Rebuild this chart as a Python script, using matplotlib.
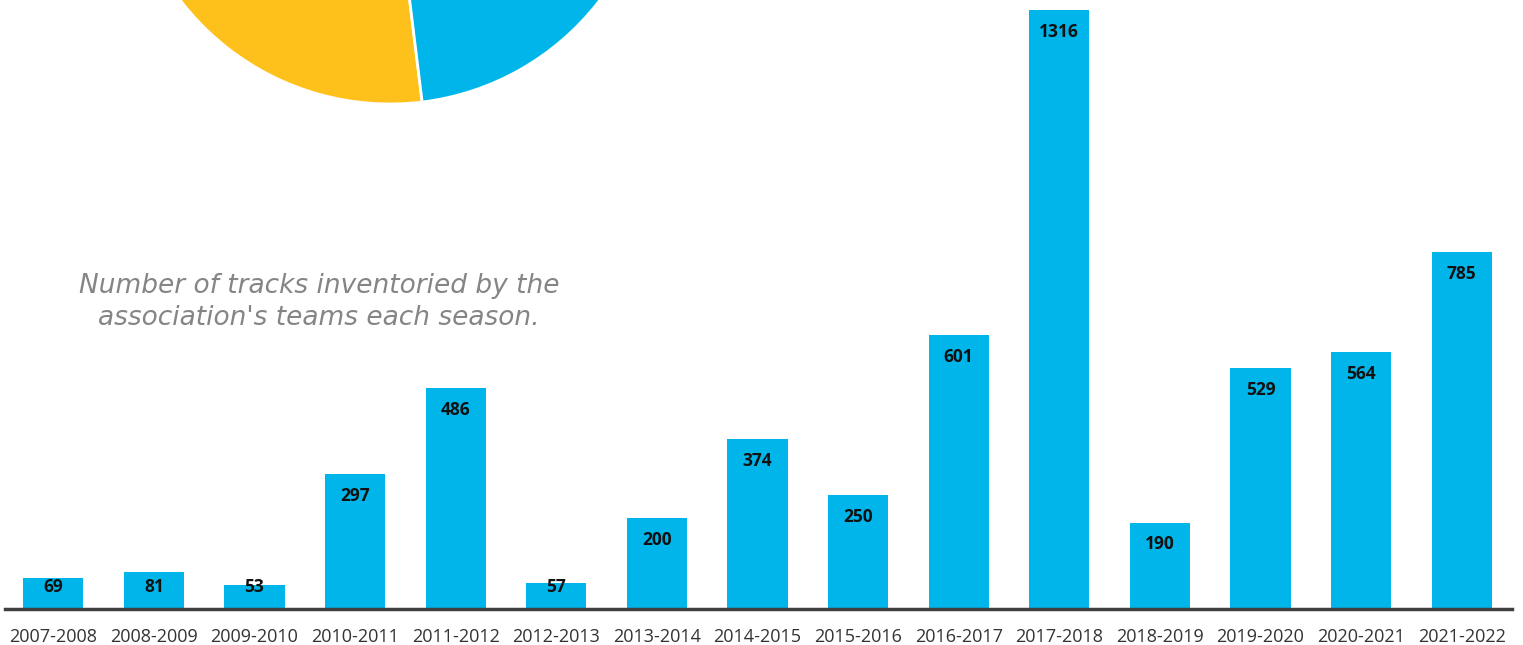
import matplotlib
matplotlib.use("Agg")
import matplotlib.pyplot as plt

# Season counts of inventoried tracks
seasons = ["2007-2008", "2008-2009", "2009-2010", "2010-2011", "2011-2012",
           "2012-2013", "2013-2014", "2014-2015", "2015-2016", "2016-2017",
           "2017-2018", "2018-2019", "2019-2020", "2020-2021", "2021-2022"]
tracks = [69, 81, 53, 297, 486, 57, 200, 374, 250, 601, 1316, 190, 529, 564, 785]

# Partial pie peeking in from the top (only two wedges are visible)
pie_shares = [50, 50]
pie_colors = ["#fec11b", "#00b5e9"]

bar_color = "#00b5e9"

fig = plt.figure(figsize=(15.23, 6.45), dpi=100)

# Bar chart
ax = fig.add_axes([5 / 1523, 36 / 645, 1507 / 1523, 609 / 645])
ax.set_facecolor("none")
x = range(len(seasons))
ax.bar(x, tracks, width=0.6, color=bar_color)
ax.set_xlim(-0.48, 14.5)
ax.set_ylim(0, 1338)

# labels sit just under the bar top, but never lower than a minimum height
for i, v in enumerate(tracks):
    ax.text(i, max(v - 48, 48), str(v), ha="center", va="center", fontsize=12.5,
            fontweight="bold", color="#111111", family="Open Sans")

ax.set_xticks(list(x))
ax.set_xticklabels(seasons, fontsize=13, color="#333333", family="Open Sans")
ax.tick_params(axis="x", length=0, pad=14)
ax.set_yticks([])
for side in ["top", "right", "left"]:
    ax.spines[side].set_visible(False)
ax.spines["bottom"].set_color("#404040")
ax.spines["bottom"].set_linewidth(2.5)

ax.text(319, 343, "Number of tracks inventoried by the\nassociation's teams each season.",
        transform=None, ha="center", va="center", fontsize=19, style="italic",
        color="#858585", linespacing=1.32, family="DejaVu Sans")

# Pie fragment
pax = fig.add_axes([126 / 1523, 541 / 645, 528 / 1523, 528 / 645])
pax.pie(pie_shares, colors=pie_colors, startangle=97, counterclock=True,
        wedgeprops={"edgecolor": "white", "linewidth": 2})
pax.set_xlim(-1, 1)
pax.set_ylim(-1, 1)
pax.set_aspect("equal")
pax.axis("off")

fig.savefig("out.png", dpi=100)
